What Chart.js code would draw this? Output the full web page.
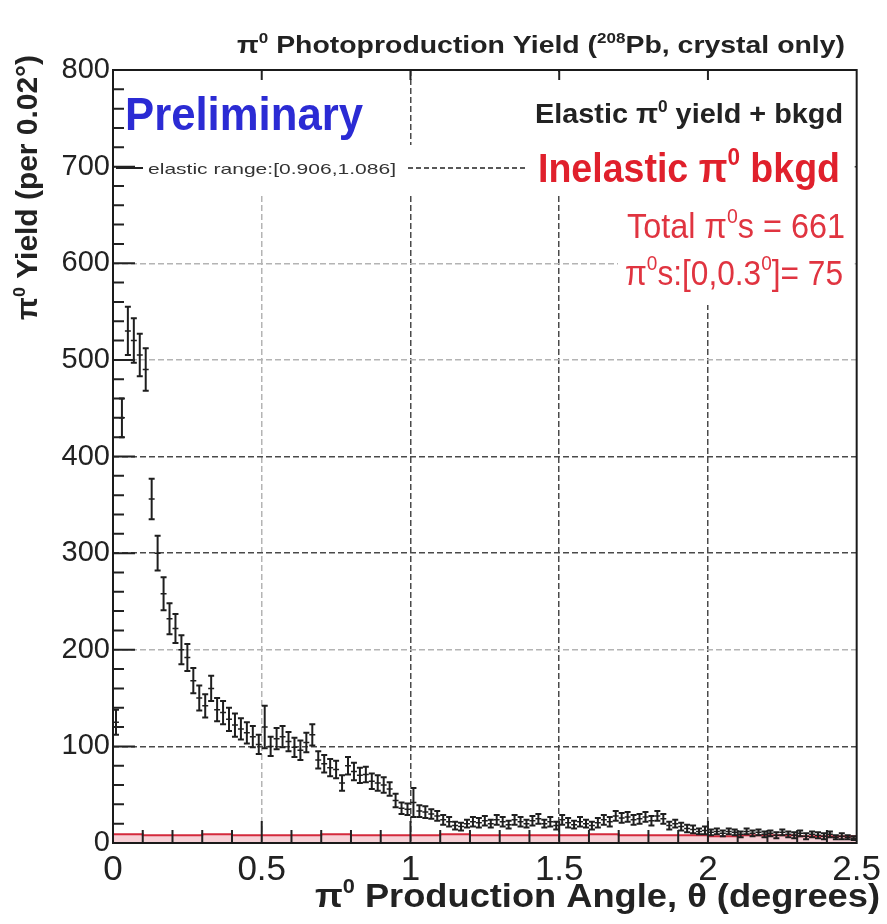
<!DOCTYPE html>
<html>
<head>
<meta charset="utf-8">
<title>π0 Photoproduction Yield</title>
<script src="https://cdn.jsdelivr.net/npm/chart.js@4.4.1/dist/chart.umd.min.js"></script>
<style>
  html, body { margin: 0; padding: 0; background: #fff; }
  #wrap { width: 887px; height: 924px; }
</style>
</head>
<body>
<div id="wrap"><canvas id="yieldChart" width="887" height="924"></canvas></div>
<script>
// elastic yield + bkgd, 0.02 deg bins from 0 to 2.5 deg
const BIN_WIDTH = 0.02;
const elasticYield = [
  125, 440, 530, 520, 505, 490, 356, 300, 258, 232,
  222, 200, 192, 168, 150, 142, 160, 138, 135, 128,
  122, 118, 114, 110, 102, 120, 100, 108, 110, 105,
  99, 96, 104, 112, 86, 82, 78, 76, 62, 80,
  74, 70, 71, 64, 62, 60, 56, 44, 36, 35,
  42, 33, 32, 30, 28, 24, 22, 18, 17, 20,
  22, 21, 23, 20, 24, 22, 19, 24, 22, 20,
  23, 25, 20, 22, 18, 24, 21, 19, 22, 20,
  18, 21, 24, 22, 28, 26, 27, 24, 25, 27,
  23, 28, 25, 18, 20, 17, 15, 14, 12, 13,
  11, 12, 10, 12, 11, 9, 12, 10, 11, 9,
  10, 8, 11, 9, 8, 10, 7, 9, 8, 7,
  9, 6, 7, 6, 5
];
const elasticError = [
  13, 20, 25, 23, 22, 22, 21, 18, 17, 16,
  15, 15, 14, 13, 13, 12, 13, 12, 12, 12,
  12, 11, 11, 11, 10, 22, 10, 11, 11, 10,
  10, 10, 10, 11, 9, 9, 9, 9, 8, 9,
  9, 8, 8, 8, 8, 8, 7, 7, 6, 6,
  15, 6, 6, 5, 5, 5, 5, 4, 4, 4,
  5, 5, 5, 4, 5, 5, 4, 5, 5, 4,
  5, 5, 4, 5, 4, 5, 5, 4, 5, 4,
  4, 5, 5, 5, 5, 5, 5, 5, 5, 5,
  5, 5, 5, 4, 4, 4, 4, 4, 3, 4,
  3, 3, 3, 3, 3, 3, 3, 3, 3, 3,
  3, 3, 3, 3, 3, 3, 3, 3, 3, 3,
  3, 2, 3, 2, 2
];

// inelastic pi0 background, 0.1 deg bins
const BKGD_WIDTH = 0.1;
const inelasticBkgd = [
  8, 9, 8, 8, 9, 8, 8, 8, 9, 8,
  8, 8, 9, 8, 8, 8, 8, 9, 8, 8,
  8, 7, 8, 8, 7
];

const totalPi0 = 661;
const forwardPi0 = 75;

const elasticPoints = elasticYield.map((v, i) => ({ x: (i + 0.5) * BIN_WIDTH, y: v }));
const bkgdPoints = inelasticBkgd.map((v, i) => ({ x: i * BKGD_WIDTH, y: v }));
bkgdPoints.push({ x: inelasticBkgd.length * BKGD_WIDTH, y: inelasticBkgd[inelasticBkgd.length - 1] });

const FONT = '"Liberation Sans", Arial, Helvetica, sans-serif';
const RED = '#e0202c';

// text with superscript runs, optionally squeezed to a given width
function drawRuns(ctx, runs, o) {
  const fontFor = sup => `${o.weight || 'normal'} ${sup ? o.size * 0.6 : o.size}px ${FONT}`;
  const widths = runs.map(r => { ctx.font = fontFor(r[1]); return ctx.measureText(r[0]).width; });
  const natural = widths.reduce((a, b) => a + b, 0);
  const sx = o.width ? o.width / natural : 1;
  ctx.save();
  ctx.fillStyle = o.color || '#222';
  ctx.textAlign = 'left';
  ctx.textBaseline = 'alphabetic';
  ctx.translate(o.x, o.y);
  if (o.rotate) ctx.rotate(o.rotate);
  ctx.scale(sx, 1);
  let cx = o.align === 'right' ? -natural : 0;
  runs.forEach((r, i) => {
    ctx.font = fontFor(r[1]);
    ctx.fillText(r[0], cx, r[1] ? -o.size * 0.42 : 0);
    cx += widths[i];
  });
  ctx.restore();
}

const histPlugin = {
  id: 'hist',
  // white label boxes sit over the grid
  beforeDatasetsDraw(chart) {
    const ctx = chart.ctx;
    const a = chart.chartArea;
    ctx.save();
    ctx.fillStyle = '#fff';
    ctx.fillRect(a.left + 2, a.top + 2, 270, 73);
    ctx.fillRect(520, a.top + 2, a.right - 522, 73);
    ctx.fillRect(a.left + 2, 145, a.right - a.left - 4, 50);
    ctx.fillRect(618, 195, a.right - 620, 110);
    ctx.restore();
  },
  afterDatasetsDraw(chart) {
    const ctx = chart.ctx;
    const a = chart.chartArea;
    const xs = chart.scales.x;
    const ys = chart.scales.y;
    const meta = chart.getDatasetMeta(1);

    // error bars
    ctx.save();
    ctx.beginPath();
    ctx.rect(a.left, a.top, a.right - a.left, a.bottom - a.top);
    ctx.clip();
    ctx.strokeStyle = '#1e1e1e';
    meta.data.forEach((pt, i) => {
      const hi = ys.getPixelForValue(elasticYield[i] + elasticError[i]);
      const lo = ys.getPixelForValue(Math.max(0, elasticYield[i] - elasticError[i]));
      const x0 = xs.getPixelForValue(elasticPoints[i].x - BIN_WIDTH / 2);
      const x1 = xs.getPixelForValue(elasticPoints[i].x + BIN_WIDTH / 2);
      ctx.lineWidth = 2;
      ctx.beginPath();
      ctx.moveTo(pt.x, hi); ctx.lineTo(pt.x, lo);
      ctx.moveTo(pt.x - 3, hi); ctx.lineTo(pt.x + 3, hi);
      ctx.moveTo(pt.x - 3, lo); ctx.lineTo(pt.x + 3, lo);
      ctx.stroke();
      ctx.lineWidth = 1.5;
      ctx.beginPath();
      ctx.moveTo(x0, pt.y); ctx.lineTo(x1, pt.y);
      ctx.stroke();
    });
    ctx.restore();

    // axis ticks inside the frame
    ctx.save();
    ctx.strokeStyle = '#222';
    ctx.lineWidth = 2;
    ctx.beginPath();
    for (let k = 1; k < 25; k++) {
      const px = xs.getPixelForValue(k * 0.1);
      const len = k % 5 === 0 ? 22 : 13;
      ctx.moveTo(px, a.bottom); ctx.lineTo(px, a.bottom - len);
      if (k % 5 === 0) { ctx.moveTo(px, a.top); ctx.lineTo(px, a.top + 10); }
    }
    for (let k = 1; k < 40; k++) {
      const py = ys.getPixelForValue(k * 20);
      const len = k % 5 === 0 ? 22 : 11;
      ctx.moveTo(a.left, py); ctx.lineTo(a.left + len, py);
    }
    ctx.stroke();
    // frame
    ctx.lineWidth = 2;
    ctx.strokeStyle = '#1a1a1a';
    ctx.strokeRect(a.left, a.top, a.right - a.left, a.bottom - a.top);
    ctx.restore();
  },
  afterDraw(chart) {
    const ctx = chart.ctx;

    drawRuns(ctx, [['π', 0], ['0', 1], [' Photoproduction Yield (', 0], ['208', 1], ['Pb, crystal only)', 0]],
      { x: 237, y: 53, size: 24, weight: 'bold', width: 608, color: '#222' });

    drawRuns(ctx, [['π', 0], ['0', 1], [' Yield (per 0.02°)', 0]],
      { x: 37, y: 320, size: 29, weight: 'bold', width: 265, rotate: -Math.PI / 2, color: '#222' });

    drawRuns(ctx, [['π', 0], ['0', 1], [' Production Angle, θ (degrees)', 0]],
      { x: 315, y: 907, size: 33, weight: 'bold', width: 565, color: '#222' });

    drawRuns(ctx, [['Preliminary', 0]],
      { x: 125, y: 130, size: 47, weight: 'bold', width: 238, color: '#2b2bd4' });

    drawRuns(ctx, [['Elastic π', 0], ['0', 1], [' yield + bkgd', 0]],
      { x: 843, y: 123, size: 27, weight: 'bold', width: 308, align: 'right', color: '#222' });

    drawRuns(ctx, [['Inelastic π', 0], ['0', 1], [' bkgd', 0]],
      { x: 538, y: 182, size: 40, weight: 'bold', width: 302, color: RED });

    drawRuns(ctx, [['Total π', 0], ['0', 1], ['s = ' + totalPi0, 0]],
      { x: 627, y: 238, size: 35, width: 218, color: '#e03440' });

    drawRuns(ctx, [['π', 0], ['0', 1], ['s:[0,0.3', 0], ['0', 1], [']= ' + forwardPi0, 0]],
      { x: 625, y: 285, size: 35, width: 218, color: '#e03440' });

    drawRuns(ctx, [['elastic range:[0.906,1.086]', 0]],
      { x: 148, y: 174, size: 15, width: 248, color: '#333' });

    ctx.save();
    ctx.strokeStyle = '#222';
    ctx.lineWidth = 2;
    ctx.beginPath();
    ctx.moveTo(116, 168); ctx.lineTo(143, 168);
    ctx.stroke();
    ctx.lineWidth = 1.5;
    ctx.setLineDash([5, 3]);
    ctx.beginPath();
    ctx.moveTo(408, 168); ctx.lineTo(528, 168);
    ctx.stroke();
    ctx.restore();
  }
};

const lightX = [0.5];
const lightY = [200, 500, 600];

new Chart(document.getElementById('yieldChart'), {
  type: 'scatter',
  data: {
    datasets: [{
      label: 'Inelastic π0 bkgd',
      type: 'line',
      data: bkgdPoints,
      stepped: 'after',
      borderColor: '#d42a3c',
      borderWidth: 2,
      backgroundColor: 'rgba(226, 90, 110, 0.28)',
      fill: 'origin',
      pointRadius: 0
    }, {
      label: 'Elastic π0 yield + bkgd',
      data: elasticPoints,
      pointRadius: 0,
      showLine: false
    }]
  },
  options: {
    responsive: false,
    animation: false,
    layout: { padding: { top: 70, right: 30, left: 0, bottom: 0 } },
    plugins: {
      legend: { display: false },
      tooltip: { enabled: false }
    },
    scales: {
      x: {
        type: 'linear',
        min: 0,
        max: 2.5,
        afterFit: s => { s.height = 81; },
        ticks: {
          stepSize: 0.5,
          autoSkip: false,
          maxRotation: 0,
          padding: 6,
          color: '#222',
          font: { family: FONT, size: 35 },
          callback: v => String(Math.round(v * 10) / 10)
        },
        grid: {
          drawTicks: false,
          lineWidth: 1.5,
          color: c => (c.tick.value <= 0 || c.tick.value >= 2.5) ? 'rgba(0,0,0,0)'
            : lightX.includes(c.tick.value) ? '#b4b4b4' : '#4a4a4a'
        },
        border: { display: false, dash: [6, 3] }
      },
      y: {
        min: 0,
        max: 800,
        afterFit: s => { s.width = 113; },
        ticks: {
          stepSize: 100,
          padding: 3,
          color: '#222',
          font: { family: FONT, size: 29 }
        },
        grid: {
          drawTicks: false,
          lineWidth: 1.5,
          color: c => (c.tick.value <= 0 || c.tick.value >= 800) ? 'rgba(0,0,0,0)'
            : lightY.includes(c.tick.value) ? '#b4b4b4' : '#4a4a4a'
        },
        border: { display: false, dash: [6, 3] }
      }
    }
  },
  plugins: [histPlugin]
});
</script>
</body>
</html>
